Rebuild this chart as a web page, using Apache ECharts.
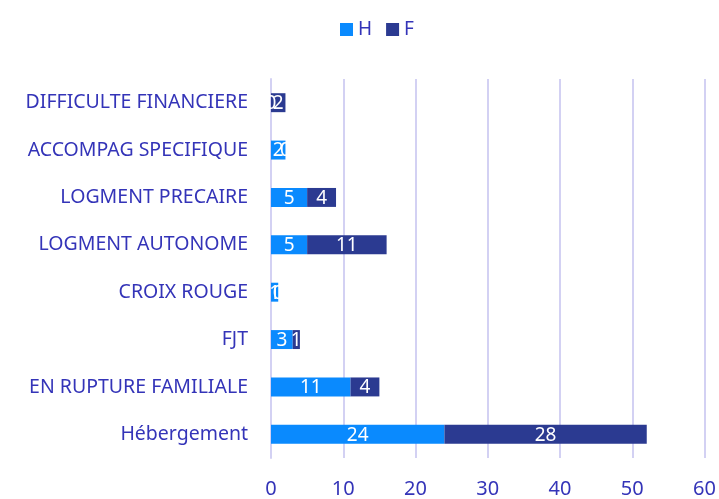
<!DOCTYPE html>
<html>
<head>
<meta charset="utf-8">
<script src="https://cdn.jsdelivr.net/npm/echarts@6/dist/echarts.min.js"></script>
<style>
  html, body { margin: 0; padding: 0; background: #fff; }
  #chart { width: 719px; height: 499px; }
</style>
</head>
<body>
<div id="chart"></div>
<script>
// Categories, listed bottom to top along the vertical axis
const categories = [
  'Hébergement',
  'EN RUPTURE FAMILIALE',
  'FJT',
  'CROIX ROUGE',
  'LOGMENT AUTONOME',
  'LOGMENT PRECAIRE',
  'ACCOMPAG SPECIFIQUE',
  'DIFFICULTE FINANCIERE'
];
const valuesH = [24, 11, 3, 1, 5, 5, 2, 0];
const valuesF = [28, 4, 1, 0, 11, 4, 0, 2];
const xTicks = [0, 10, 20, 30, 40, 50, 60];

const textColor = '#3434b8';
const gridColor = '#d3d1f3';
const font = 'Noto Sans';

const chart = echarts.init(document.getElementById('chart'), null, { renderer: 'canvas' });

const barLabel = {
  show: true,
  position: 'inside',
  offset: [0, 1],
  color: '#ffffff',
  fontFamily: font,
  fontSize: 19
};

chart.setOption({
  animation: false,
  textStyle: { fontFamily: font },
  legend: {
    top: 15,
    left: 335,
    itemWidth: 13,
    itemHeight: 13,
    itemGap: 14,
    icon: 'rect',
    textStyle: { color: textColor, fontSize: 19, fontFamily: font },
    data: ['H', 'F']
  },
  grid: { left: 271, right: 14, top: 79, bottom: 36, containLabel: false },
  xAxis: {
    type: 'value',
    min: xTicks[0],
    max: xTicks[xTicks.length - 1],
    interval: 10,
    axisLine: { show: false },
    axisTick: { show: true, length: 0 },
    axisLabel: { color: textColor, fontSize: 20, fontFamily: font, margin: 21 },
    splitLine: { show: true, lineStyle: { color: gridColor, width: 2 } }
  },
  yAxis: {
    type: 'category',
    data: categories,
    axisLine: { show: true, lineStyle: { color: gridColor, width: 2 } },
    axisTick: { show: false },
    axisLabel: { color: textColor, fontSize: 19.5, fontFamily: font, margin: 23 }
  },
  series: [
    {
      name: 'H', type: 'bar', stack: 'total', data: valuesH,
      barCategoryGap: '60%',
      itemStyle: { color: '#0a8afe' },
      label: barLabel
    },
    {
      name: 'F', type: 'bar', stack: 'total', data: valuesF,
      itemStyle: { color: '#2b3a91' },
      label: barLabel
    }
  ]
});
</script>
</body>
</html>
